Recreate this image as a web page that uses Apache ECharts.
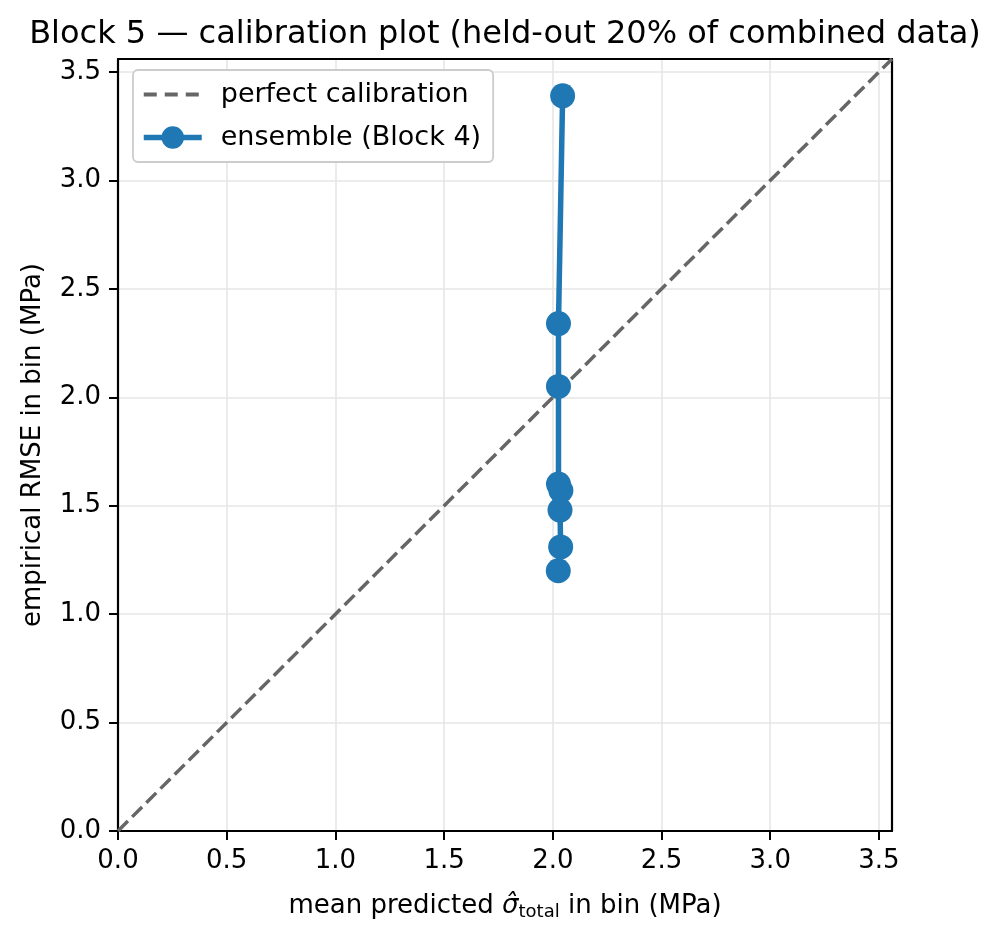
<!DOCTYPE html>
<html lang="en">
  <head>
    <meta charset="UTF-8" />
    <title>Block 5 calibration plot</title>
    <script src="https://cdn.jsdelivr.net/npm/echarts@6/dist/echarts.min.js"></script>
    <style>
      html, body { margin: 0; padding: 0; background: #fff; }
    </style>
  </head>
  <body>
    <div id="main" style="width: 1001px; height: 939px"></div>

    <script>
      // bins: mean predicted sigma vs empirical RMSE
      const predSigma = [2.025, 2.036, 2.033, 2.037, 2.026, 2.026, 2.026, 2.045]
      const rmse = [1.20, 1.31, 1.48, 1.57, 1.60, 2.05, 2.34, 3.39]
      const axisMax = 3.56
      const diagonal = [0, axisMax]

      const font = 'DejaVu Sans'
      const chart = echarts.init(document.getElementById('main'))

      const axisCommon = {
        min: 0,
        max: axisMax,
        interval: 0.5,
        axisLine: { show: true, onZero: false, lineStyle: { color: '#000', width: 2.2 } },
        axisTick: { show: true, inside: false, length: 9, lineStyle: { color: '#000', width: 2 } },
        axisLabel: {
          color: '#000',
          fontFamily: font,
          fontSize: 26,
          margin: 17,
          showMaxLabel: false,
          formatter: v => v.toFixed(1),
        },
        splitLine: { show: true, lineStyle: { color: '#e6e6e6', width: 1.6 } },
        nameLocation: 'middle',
        nameTextStyle: { color: '#000', fontFamily: font, fontSize: 26 },
      }

      // top / right spines, no labels
      const spine = {
        type: 'value',
        min: 0,
        max: axisMax,
        interval: 0.5,
        axisLine: { show: true, onZero: false, lineStyle: { color: '#000', width: 2.2 } },
        axisTick: { show: false },
        axisLabel: { show: false },
        splitLine: { show: false },
      }

      const options = {
        animation: false,
        title: {
          text: 'Block 5 — calibration plot (held-out 20% of combined data)',
          left: 500,
          textAlign: 'center',
          top: 14,
          textStyle: { fontFamily: font, fontSize: 32, fontWeight: 'normal', color: '#000' },
        },
        grid: {
          left: 118,
          right: 109,
          top: 59,
          bottom: 108,
        },
        legend: {
          orient: 'vertical',
          left: 133,
          top: 70,
          padding: [10, 12, 10, 8],
          itemGap: 14,
          itemWidth: 58,
          itemHeight: 28,
          backgroundColor: '#fff',
          borderColor: '#cccccc',
          borderWidth: 1.8,
          borderRadius: 5,
          textStyle: { fontFamily: font, fontSize: 27, color: '#000', lineHeight: 29, padding: [0, 0, 0, 14] },
          data: [
            {
              name: 'perfect calibration',
              itemStyle: { color: 'rgba(0,0,0,0)', borderWidth: 0 },
              lineStyle: { color: '#666666', width: 4, type: [13, 8] },
            },
            {
              name: 'ensemble (Block 4)',
              lineStyle: { color: '#1f77b4', width: 5.5 },
            },
          ],
        },
        xAxis: [
          Object.assign({}, axisCommon, {
            type: 'value',
            position: 'bottom',
            name: 'mean predicted {s|σ̂}{sub|total} in bin (MPa)',
            nameGap: 60,
            nameTextStyle: {
              color: '#000',
              fontFamily: font,
              fontSize: 26,
              rich: {
                s: { fontFamily: font, fontSize: 26, fontStyle: 'italic', color: '#000' },
                sub: { fontFamily: font, fontSize: 18, color: '#000', verticalAlign: 'bottom', padding: [12, 0, 0, 0] },
              },
            },
          }),
          Object.assign({}, spine, { position: 'top' }),
        ],
        yAxis: [
          Object.assign({}, axisCommon, {
            type: 'value',
            position: 'left',
            name: 'empirical RMSE in bin (MPa)',
            nameGap: 72,
          }),
          Object.assign({}, spine, { position: 'right' }),
        ],
        series: [
          {
            name: 'perfect calibration',
            type: 'line',
            data: diagonal.map(v => [v, v]),
            showSymbol: false,
            symbol: 'none',
            lineStyle: { color: '#666666', width: 3.5, type: [14, 6] },
            itemStyle: { color: '#666666' },
            z: 2,
          },
          {
            name: 'ensemble (Block 4)',
            type: 'line',
            data: predSigma.map((x, i) => [x, rmse[i]]),
            symbol: 'circle',
            symbolSize: 25,
            lineStyle: { color: '#1f77b4', width: 5.5 },
            itemStyle: { color: '#1f77b4' },
            z: 3,
          },
        ],
      }

      chart.setOption(options)
    </script>
  </body>
</html>
